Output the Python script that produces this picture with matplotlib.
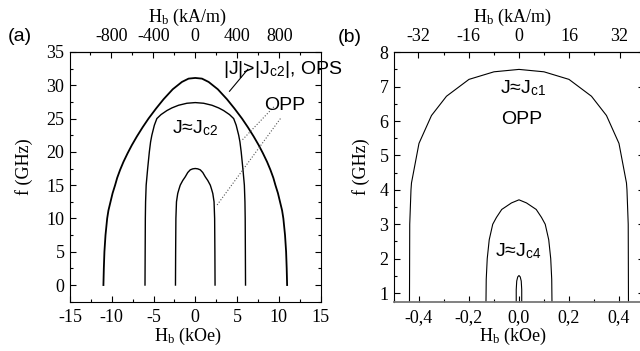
import numpy as np
import matplotlib
matplotlib.use("Agg")
import matplotlib.pyplot as plt
from matplotlib.ticker import MultipleLocator, FixedLocator, FuncFormatter

plt.rcParams['font.family'] = ['Liberation Serif', 'DejaVu Serif']
plt.rcParams['mathtext.fontset'] = 'custom'
plt.rcParams['mathtext.rm'] = 'Liberation Serif'
plt.rcParams['mathtext.it'] = 'Liberation Serif:italic'
plt.rcParams['mathtext.sf'] = 'Liberation Sans'
plt.rcParams['axes.unicode_minus'] = False

KAM_PER_KOE = 79.577
SANS = ['Liberation Sans', 'DejaVu Sans']

# panel (a): half domes (H in kOe, f in GHz), mirrored about H=0
a_outer_h = [0.0, 0.8, 1.6, 2.7, 3.8, 4.7, 5.6, 6.3, 7.0, 7.6, 8.1, 8.6, 9.0,
             9.35, 9.6, 9.9, 10.15, 10.4, 10.55, 10.75, 10.88, 10.95, 11.0]
a_outer_f = [31.1, 31.0, 30.5, 29.4, 27.9, 26.5, 25.0, 23.7, 22.3, 21.0, 19.8, 18.5, 17.3,
             16.1, 15.0, 13.8, 12.5, 11.2, 10.0, 7.5, 5.0, 2.5, 0.0]
a_mid_h = [0.0, 1.0, 2.0, 2.8, 3.4, 4.1, 4.6, 4.9, 5.2, 5.35, 5.5, 5.7, 5.88, 5.95, 5.98, 6.0, 6.02]
a_mid_f = [27.4, 27.3, 27.0, 26.6, 26.2, 25.6, 25.0, 24.0, 22.5, 21.5, 20.0, 17.5, 15.0, 12.5,
           10.0, 5.0, 0.0]
a_in_h = [0.0, 0.3, 0.6, 0.9, 1.2, 1.5, 1.8, 1.95, 2.1, 2.25, 2.32, 2.35, 2.37]
a_in_f = [17.5, 17.45, 17.3, 16.9, 16.25, 15.7, 15.0, 14.4, 13.75, 12.5, 10.0, 5.0, 0.0]

# panel (b)
b_outer_h = [0.0, 0.1, 0.2, 0.29, 0.35, 0.40, 0.43, 0.432, 0.437, 0.438]
b_outer_f = [7.5, 7.43, 7.21, 6.72, 6.16, 5.35, 4.2, 4.0, 3.0, 0.75]
b_mid_h = [0.0, 0.03, 0.069, 0.09, 0.105, 0.119, 0.127, 0.131, 0.132]
b_mid_f = [3.71, 3.62, 3.43, 3.2, 3.0, 2.55, 2.0, 1.4, 0.75]
b_in_h = [0.0, 0.005, 0.009, 0.011, 0.011]
b_in_f = [1.51, 1.47, 1.35, 1.1, 0.75]

a_xticks = [-15, -10, -5, 0, 5, 10, 15]
a_yticks = [0, 5, 10, 15, 20, 25, 30, 35]
a_top_ticks = [-800, -400, 0, 400, 800]
b_xticks = [-0.4, -0.2, 0.0, 0.2, 0.4]
b_yticks = [1, 2, 3, 4, 5, 6, 7, 8]
b_top_ticks = [-32, -16, 0, 16, 32]


def dome(h, f):
    h = np.asarray(h)
    f = np.asarray(f)
    return np.concatenate([-h[::-1], h[1:]]), np.concatenate([f[::-1], f[1:]])


def style(ax, top_ticks, top_minor, xlab_x, ylab_x):
    ax.tick_params(which='both', direction='in', top=False, right=True,
                   labelsize=13, width=0.8)
    ax.tick_params(which='major', length=4)
    ax.tick_params(which='minor', length=2)
    ax.tick_params(axis='x', pad=5)
    ax.tick_params(axis='y', pad=4)
    sec = ax.secondary_xaxis('top', functions=(lambda h: h * KAM_PER_KOE,
                                               lambda k: k / KAM_PER_KOE))
    sec.xaxis.set_major_locator(FixedLocator(top_ticks))
    sec.xaxis.set_minor_locator(MultipleLocator(top_minor))
    sec.tick_params(which='both', direction='in', labelsize=13, width=0.8, pad=5)
    sec.tick_params(which='major', length=4)
    sec.tick_params(which='minor', length=2)
    sec.set_xlabel(r'H$_\mathrm{b}$ (kA/m)', fontsize=13)
    sec.xaxis.set_label_coords(xlab_x, 1.12, transform=ax.transAxes)
    ax.set_xlabel(r'H$_\mathrm{b}$ (kOe)', fontsize=13)
    ax.set_ylabel('f (GHz)', fontsize=13)
    ax.xaxis.set_label_coords(xlab_x, -0.095)
    ax.yaxis.set_label_coords(ylab_x, 0.54)
    return sec


fig = plt.figure(figsize=(6.4, 3.51), dpi=100)
ax1 = fig.add_axes([0.1094, 0.1405, 0.3914, 0.7114])
ax2 = fig.add_axes([0.6156, 0.1405, 0.3906, 0.7108])

# ---- (a)
for hh, ff, lw in [(a_outer_h, a_outer_f, 1.3), (a_mid_h, a_mid_f, 1.0), (a_in_h, a_in_f, 1.0)]:
    x, y = dome(hh, ff)
    ax1.plot(x, y, color='black', lw=lw)
ax1.set_xlim(-15, 15)
ax1.set_ylim(-2.5, 35)
ax1.set_xticks(a_xticks)
ax1.set_yticks(a_yticks)
ax1.xaxis.set_minor_locator(MultipleLocator(2.5))
ax1.yaxis.set_minor_locator(MultipleLocator(2.5))
style(ax1, a_top_ticks, 200, 0.47, -0.148)

ax1.text(3.3, 32.4, r'|J|>|J$_{\mathsf{c2}}$|, OPS', family=SANS, fontsize=14,
         ha='left', va='center', clip_on=False)
ax1.plot([6.3, 4.1], [32.4, 29.1], color='black', lw=0.8)
ax1.text(10.7, 27.0, 'OPP', family=SANS, fontsize=14, ha='center', va='center')
ax1.plot([9.4, 5.6], [26.75, 21.75], color='#555555', lw=0.8, ls=':')
ax1.plot([10.2, 2.6], [25.0, 12.0], color='#555555', lw=0.8, ls=':')
ax1.text(-2.8, 23.5, r'J≈J$_{\mathsf{c2}}$', family=SANS, fontsize=14,
         ha='left', va='center')

# ---- (b)
for hh, ff in [(b_outer_h, b_outer_f), (b_mid_h, b_mid_f), (b_in_h, b_in_f)]:
    x, y = dome(hh, ff)
    ax2.plot(x, y, color='black', lw=0.8)
ax2.set_xlim(-0.5, 0.5)
ax2.set_ylim(0.75, 8)
ax2.set_xticks(b_xticks)
ax2.set_yticks(b_yticks)
ax2.xaxis.set_major_formatter(FuncFormatter(lambda v, p: f'{v:.1f}'.replace('.', ',')))
ax2.xaxis.set_minor_locator(MultipleLocator(0.1))
ax2.yaxis.set_minor_locator(MultipleLocator(0.5))
style(ax2, b_top_ticks, 8, 0.474, -0.096)
ax2.spines['bottom'].set_color('#777777')
ax2.spines['bottom'].set_linewidth(1.3)

ax2.text(-0.076, 6.96, r'J≈J$_{\mathsf{c1}}$', family=SANS, fontsize=14,
         ha='left', va='center')
ax2.text(0.01, 6.03, 'OPP', family=SANS, fontsize=14, ha='center', va='center')
ax2.text(-0.096, 2.21, r'J≈J$_{\mathsf{c4}}$', family=SANS, fontsize=14,
         ha='left', va='center')

fig.text(19.5 / 640, 1 - 36.5 / 351, '(a)', family=SANS, fontsize=14, ha='center', va='center')
fig.text(349.5 / 640, 1 - 37 / 351, '(b)', family=SANS, fontsize=14, ha='center', va='center')

fig.savefig('out.png', dpi=100)
